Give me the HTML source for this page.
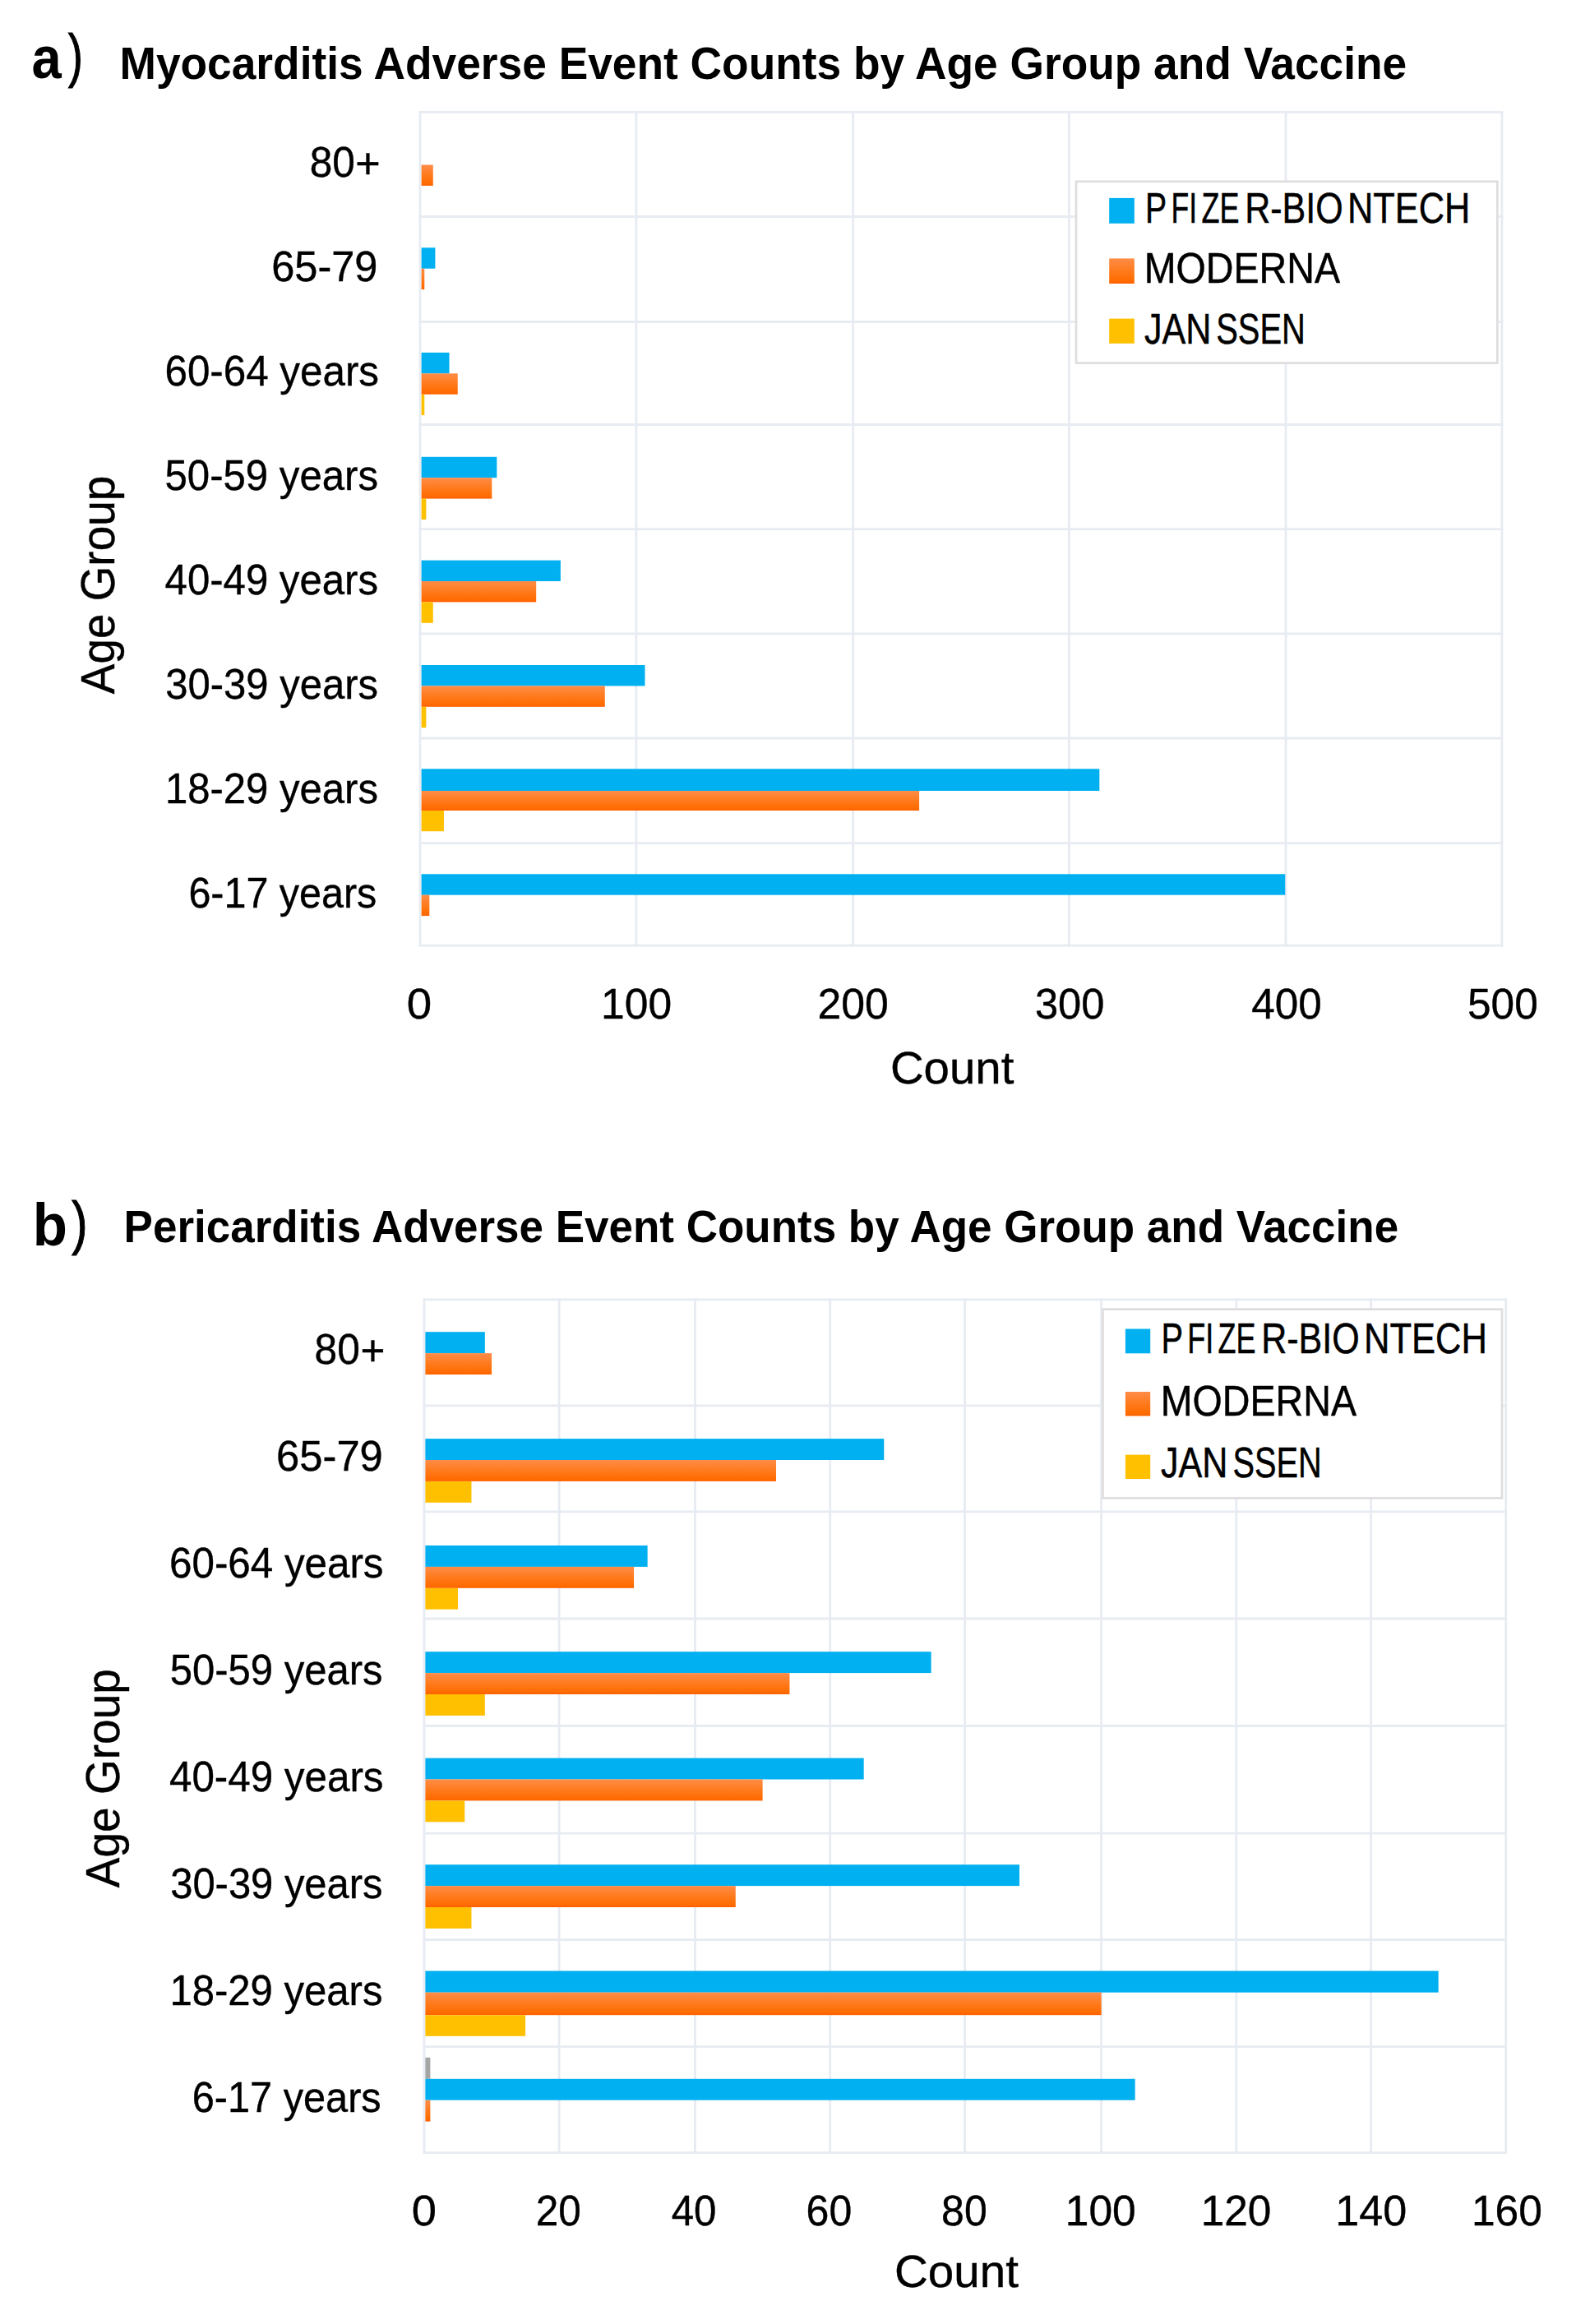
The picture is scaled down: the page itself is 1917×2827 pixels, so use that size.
<!DOCTYPE html>
<html lang="en"><head><meta charset="utf-8"><title>Adverse Event Counts by Age Group and Vaccine</title>
<style>html,body{margin:0;padding:0;background:#fff}body{width:1917px;height:2827px;overflow:hidden}svg text{font-family:"Liberation Sans",sans-serif}</style></head>
<body>
<svg width="1917" height="2827" viewBox="0 0 1917 2827" style="display:block">
<defs><linearGradient id="og" x1="0" y1="0" x2="0" y2="1"><stop offset="0" stop-color="#FF8C48"/><stop offset="0.5" stop-color="#FF7A1C"/><stop offset="0.88" stop-color="#FF6C02"/><stop offset="1" stop-color="#FF6000"/></linearGradient></defs>
<rect width="1917" height="2827" fill="#fff"/>
<line x1="511.00" y1="135.00" x2="511.00" y2="1151.60" stroke="#E7EBF2" stroke-width="2.8"/>
<line x1="773.90" y1="135.00" x2="773.90" y2="1151.60" stroke="#E7EBF2" stroke-width="2.8"/>
<line x1="1037.70" y1="135.00" x2="1037.70" y2="1151.60" stroke="#E7EBF2" stroke-width="2.8"/>
<line x1="1300.40" y1="135.00" x2="1300.40" y2="1151.60" stroke="#E7EBF2" stroke-width="2.8"/>
<line x1="1564.00" y1="135.00" x2="1564.00" y2="1151.60" stroke="#E7EBF2" stroke-width="2.8"/>
<line x1="1826.90" y1="135.00" x2="1826.90" y2="1151.60" stroke="#E7EBF2" stroke-width="2.8"/>
<line x1="509.60" y1="136.40" x2="1828.30" y2="136.40" stroke="#E7EBF2" stroke-width="2.8"/>
<line x1="509.60" y1="263.50" x2="1828.30" y2="263.50" stroke="#E7EBF2" stroke-width="2.8"/>
<line x1="509.60" y1="391.50" x2="1828.30" y2="391.50" stroke="#E7EBF2" stroke-width="2.8"/>
<line x1="509.60" y1="516.50" x2="1828.30" y2="516.50" stroke="#E7EBF2" stroke-width="2.8"/>
<line x1="509.60" y1="643.70" x2="1828.30" y2="643.70" stroke="#E7EBF2" stroke-width="2.8"/>
<line x1="509.60" y1="770.90" x2="1828.30" y2="770.90" stroke="#E7EBF2" stroke-width="2.8"/>
<line x1="509.60" y1="898.00" x2="1828.30" y2="898.00" stroke="#E7EBF2" stroke-width="2.8"/>
<line x1="509.60" y1="1025.70" x2="1828.30" y2="1025.70" stroke="#E7EBF2" stroke-width="2.8"/>
<line x1="509.60" y1="1150.20" x2="1828.30" y2="1150.20" stroke="#E7EBF2" stroke-width="2.8"/>
<rect x="512.60" y="200.50" width="14.17" height="25.40" fill="url(#og)"/>
<rect x="512.60" y="301.30" width="16.80" height="25.40" fill="#00B0F0"/>
<rect x="512.60" y="326.70" width="3.66" height="25.40" fill="url(#og)"/>
<rect x="512.60" y="428.90" width="33.89" height="25.40" fill="#00B0F0"/>
<rect x="512.60" y="454.30" width="44.14" height="25.40" fill="url(#og)"/>
<rect x="512.60" y="479.70" width="3.66" height="25.40" fill="#FFC000"/>
<rect x="512.60" y="555.80" width="91.73" height="25.40" fill="#00B0F0"/>
<rect x="512.60" y="581.20" width="85.68" height="25.40" fill="url(#og)"/>
<rect x="512.60" y="606.60" width="5.76" height="25.40" fill="#FFC000"/>
<rect x="512.60" y="681.60" width="169.28" height="25.40" fill="#00B0F0"/>
<rect x="512.60" y="707.00" width="139.58" height="25.40" fill="url(#og)"/>
<rect x="512.60" y="732.40" width="14.17" height="25.40" fill="#FFC000"/>
<rect x="512.60" y="809.00" width="271.85" height="25.40" fill="#00B0F0"/>
<rect x="512.60" y="834.40" width="223.18" height="25.40" fill="url(#og)"/>
<rect x="512.60" y="859.80" width="5.76" height="25.40" fill="#FFC000"/>
<rect x="512.60" y="935.30" width="824.70" height="26.70" fill="#00B0F0"/>
<rect x="512.60" y="962.00" width="605.49" height="24.00" fill="url(#og)"/>
<rect x="512.60" y="986.00" width="27.32" height="25.20" fill="#FFC000"/>
<rect x="512.60" y="1063.30" width="1050.61" height="25.40" fill="#00B0F0"/>
<rect x="512.60" y="1088.70" width="9.70" height="25.40" fill="url(#og)"/>
<line x1="516.00" y1="1579.50" x2="516.00" y2="2620.00" stroke="#E7EBF2" stroke-width="2.8"/>
<line x1="680.10" y1="1579.50" x2="680.10" y2="2620.00" stroke="#E7EBF2" stroke-width="2.8"/>
<line x1="845.50" y1="1579.50" x2="845.50" y2="2620.00" stroke="#E7EBF2" stroke-width="2.8"/>
<line x1="1009.70" y1="1579.50" x2="1009.70" y2="2620.00" stroke="#E7EBF2" stroke-width="2.8"/>
<line x1="1173.60" y1="1579.50" x2="1173.60" y2="2620.00" stroke="#E7EBF2" stroke-width="2.8"/>
<line x1="1339.60" y1="1579.50" x2="1339.60" y2="2620.00" stroke="#E7EBF2" stroke-width="2.8"/>
<line x1="1503.80" y1="1579.50" x2="1503.80" y2="2620.00" stroke="#E7EBF2" stroke-width="2.8"/>
<line x1="1667.60" y1="1579.50" x2="1667.60" y2="2620.00" stroke="#E7EBF2" stroke-width="2.8"/>
<line x1="1831.70" y1="1579.50" x2="1831.70" y2="2620.00" stroke="#E7EBF2" stroke-width="2.8"/>
<line x1="514.60" y1="1580.90" x2="1833.10" y2="1580.90" stroke="#E7EBF2" stroke-width="2.8"/>
<line x1="514.60" y1="1709.90" x2="1833.10" y2="1709.90" stroke="#E7EBF2" stroke-width="2.8"/>
<line x1="514.60" y1="1838.90" x2="1833.10" y2="1838.90" stroke="#E7EBF2" stroke-width="2.8"/>
<line x1="514.60" y1="1969.00" x2="1833.10" y2="1969.00" stroke="#E7EBF2" stroke-width="2.8"/>
<line x1="514.60" y1="2099.50" x2="1833.10" y2="2099.50" stroke="#E7EBF2" stroke-width="2.8"/>
<line x1="514.60" y1="2230.10" x2="1833.10" y2="2230.10" stroke="#E7EBF2" stroke-width="2.8"/>
<line x1="514.60" y1="2359.50" x2="1833.10" y2="2359.50" stroke="#E7EBF2" stroke-width="2.8"/>
<line x1="514.60" y1="2489.70" x2="1833.10" y2="2489.70" stroke="#E7EBF2" stroke-width="2.8"/>
<line x1="514.60" y1="2618.60" x2="1833.10" y2="2618.60" stroke="#E7EBF2" stroke-width="2.8"/>
<rect x="517.40" y="1620.20" width="72.45" height="25.90" fill="#00B0F0"/>
<rect x="517.40" y="1646.10" width="80.65" height="25.90" fill="url(#og)"/>
<rect x="517.40" y="1750.10" width="557.86" height="25.90" fill="#00B0F0"/>
<rect x="517.40" y="1776.00" width="426.62" height="25.90" fill="url(#og)"/>
<rect x="517.40" y="1801.90" width="56.04" height="25.90" fill="#FFC000"/>
<rect x="517.40" y="1880.00" width="270.21" height="25.90" fill="#00B0F0"/>
<rect x="517.40" y="1905.90" width="253.67" height="25.90" fill="url(#og)"/>
<rect x="517.40" y="1931.80" width="39.62" height="25.90" fill="#FFC000"/>
<rect x="517.40" y="2009.20" width="615.23" height="25.90" fill="#00B0F0"/>
<rect x="517.40" y="2035.10" width="443.04" height="25.90" fill="url(#og)"/>
<rect x="517.40" y="2061.00" width="72.45" height="25.90" fill="#FFC000"/>
<rect x="517.40" y="2138.60" width="533.27" height="25.90" fill="#00B0F0"/>
<rect x="517.40" y="2164.50" width="410.20" height="25.90" fill="url(#og)"/>
<rect x="517.40" y="2190.40" width="47.83" height="25.90" fill="#FFC000"/>
<rect x="517.40" y="2268.20" width="722.60" height="25.90" fill="#00B0F0"/>
<rect x="517.40" y="2294.10" width="377.36" height="25.90" fill="url(#og)"/>
<rect x="517.40" y="2320.00" width="56.04" height="25.90" fill="#FFC000"/>
<rect x="517.40" y="2397.50" width="1232.25" height="26.20" fill="#00B0F0"/>
<rect x="517.40" y="2423.70" width="822.20" height="27.50" fill="url(#og)"/>
<rect x="517.40" y="2451.20" width="121.68" height="25.60" fill="#FFC000"/>
<rect x="517.40" y="2502.90" width="5.98" height="25.90" fill="#A5A5A5"/>
<rect x="517.40" y="2528.80" width="863.25" height="25.90" fill="#00B0F0"/>
<rect x="517.40" y="2554.70" width="5.98" height="25.90" fill="url(#og)"/>
<rect x="1309.00" y="220.80" width="512.30" height="220.80" fill="#fff" stroke="#DFDDDD" stroke-width="2.7"/>
<rect x="1349.20" y="240.90" width="30.60" height="30.90" fill="#00B0F0"/>
<rect x="1349.20" y="314.40" width="30.60" height="30.60" fill="url(#og)"/>
<rect x="1349.20" y="387.60" width="30.60" height="30.20" fill="#FFC000"/>
<rect x="1341.40" y="1592.60" width="485.60" height="229.70" fill="#fff" stroke="#DFDDDD" stroke-width="2.7"/>
<rect x="1368.90" y="1616.50" width="30.30" height="29.80" fill="#00B0F0"/>
<rect x="1368.90" y="1693.00" width="30.30" height="29.40" fill="url(#og)"/>
<rect x="1368.90" y="1769.60" width="30.30" height="29.40" fill="#FFC000"/>
<text id="aleg0" y="270.80" font-size="51.2" font-weight="normal" fill="#000" stroke="#000" stroke-width="0.5"><tspan id="aleg0_0" x="1393.00" textLength="26.20" lengthAdjust="spacingAndGlyphs">P</tspan><tspan id="aleg0_1" x="1424.60" textLength="31.60" lengthAdjust="spacingAndGlyphs">FI</tspan><tspan id="aleg0_2" x="1461.40" textLength="46.00" lengthAdjust="spacingAndGlyphs">ZE</tspan><tspan id="aleg0_3" x="1514.20" textLength="119.40" lengthAdjust="spacingAndGlyphs">R-BIO</tspan><tspan id="aleg0_4" x="1639.00" textLength="149.20" lengthAdjust="spacingAndGlyphs">NTECH</tspan></text>
<text id="aleg1" y="344.40" font-size="51.2" font-weight="normal" fill="#000" stroke="#000" stroke-width="0.5"><tspan id="aleg1_0" x="1391.80" textLength="238.20" lengthAdjust="spacingAndGlyphs">MODERNA</tspan></text>
<text id="aleg2" y="417.50" font-size="51.2" font-weight="normal" fill="#000" stroke="#000" stroke-width="0.5"><tspan id="aleg2_0" x="1392.00" textLength="81.40" lengthAdjust="spacingAndGlyphs">JAN</tspan><tspan id="aleg2_1" x="1479.20" textLength="108.60" lengthAdjust="spacingAndGlyphs">SSEN</tspan></text>
<text id="bleg0" y="1646.00" font-size="51.2" font-weight="normal" fill="#000" stroke="#000" stroke-width="0.5"><tspan id="bleg0_0" x="1412.60" textLength="26.60" lengthAdjust="spacingAndGlyphs">P</tspan><tspan id="bleg0_1" x="1444.20" textLength="32.00" lengthAdjust="spacingAndGlyphs">FI</tspan><tspan id="bleg0_2" x="1481.40" textLength="46.00" lengthAdjust="spacingAndGlyphs">ZE</tspan><tspan id="bleg0_3" x="1534.20" textLength="119.40" lengthAdjust="spacingAndGlyphs">R-BIO</tspan><tspan id="bleg0_4" x="1659.00" textLength="150.00" lengthAdjust="spacingAndGlyphs">NTECH</tspan></text>
<text id="bleg1" y="1721.70" font-size="51.2" font-weight="normal" fill="#000" stroke="#000" stroke-width="0.5"><tspan id="bleg1_0" x="1411.80" textLength="238.20" lengthAdjust="spacingAndGlyphs">MODERNA</tspan></text>
<text id="bleg2" y="1797.40" font-size="51.2" font-weight="normal" fill="#000" stroke="#000" stroke-width="0.5"><tspan id="bleg2_0" x="1412.00" textLength="81.40" lengthAdjust="spacingAndGlyphs">JAN</tspan><tspan id="bleg2_1" x="1499.60" textLength="108.20" lengthAdjust="spacingAndGlyphs">SSEN</tspan></text>
<text id="a_lab" y="94.90" font-size="73" font-weight="normal" fill="#000"><tspan id="a_lab_0" x="38.40" font-weight="bold" textLength="36.20" lengthAdjust="spacingAndGlyphs">a</tspan><tspan id="a_lab_1" x="83.00" dy="-2.9" font-weight="normal" stroke="#000" stroke-width="1.2" textLength="17.80" lengthAdjust="spacingAndGlyphs">)</tspan></text>
<text id="a_title" x="145.50" y="96.00" font-size="55.2" font-weight="bold" fill="#000" textLength="1565.70" lengthAdjust="spacingAndGlyphs">Myocarditis Adverse Event Counts by Age Group and Vaccine</text>
<text id="b_lab" y="1515.00" font-size="73" font-weight="normal" fill="#000"><tspan id="b_lab_0" x="39.80" font-weight="bold" textLength="42.20" lengthAdjust="spacingAndGlyphs">b</tspan><tspan id="b_lab_1" x="87.20" dy="-3.0" font-weight="normal" stroke="#000" stroke-width="1.2" textLength="19.20" lengthAdjust="spacingAndGlyphs">)</tspan></text>
<text id="b_title" x="150.60" y="1510.70" font-size="55.2" font-weight="bold" fill="#000" textLength="1550.50" lengthAdjust="spacingAndGlyphs">Pericarditis Adverse Event Counts by Age Group and Vaccine</text>
<text id="a_y0" y="215.30" font-size="51.4" font-weight="normal" fill="#000" stroke="#000" stroke-width="0.4"><tspan id="a_y0_0" x="376.70" textLength="55.10" lengthAdjust="spacingAndGlyphs">80</tspan><tspan id="a_y0_1" x="432.30" dy="1.9" textLength="30.40" lengthAdjust="spacingAndGlyphs">+</tspan></text>
<text id="a_y1" x="330.20" y="342.20" font-size="51.4" font-weight="normal" fill="#000" stroke="#000" stroke-width="0.4" textLength="129.30" lengthAdjust="spacingAndGlyphs">65-79</text>
<text id="a_y2" x="200.50" y="469.10" font-size="51.4" font-weight="normal" fill="#000" stroke="#000" stroke-width="0.4" textLength="260.50" lengthAdjust="spacingAndGlyphs">60-64 years</text>
<text id="a_y3" x="200.50" y="596.00" font-size="51.4" font-weight="normal" fill="#000" stroke="#000" stroke-width="0.4" textLength="259.50" lengthAdjust="spacingAndGlyphs">50-59 years</text>
<text id="a_y4" x="200.60" y="722.90" font-size="51.4" font-weight="normal" fill="#000" stroke="#000" stroke-width="0.4" textLength="259.40" lengthAdjust="spacingAndGlyphs">40-49 years</text>
<text id="a_y5" x="201.20" y="849.80" font-size="51.4" font-weight="normal" fill="#000" stroke="#000" stroke-width="0.4" textLength="258.80" lengthAdjust="spacingAndGlyphs">30-39 years</text>
<text id="a_y6" x="200.90" y="976.70" font-size="51.4" font-weight="normal" fill="#000" stroke="#000" stroke-width="0.4" textLength="259.10" lengthAdjust="spacingAndGlyphs">18-29 years</text>
<text id="a_y7" x="229.40" y="1103.60" font-size="51.4" font-weight="normal" fill="#000" stroke="#000" stroke-width="0.4" textLength="228.90" lengthAdjust="spacingAndGlyphs">6-17 years</text>
<text id="b_y0" y="1659.00" font-size="51.4" font-weight="normal" fill="#000" stroke="#000" stroke-width="0.4"><tspan id="b_y0_0" x="382.60" textLength="55.20" lengthAdjust="spacingAndGlyphs">80</tspan><tspan id="b_y0_1" x="438.40" dy="1.9" textLength="29.90" lengthAdjust="spacingAndGlyphs">+</tspan></text>
<text id="b_y1" x="336.10" y="1788.95" font-size="51.4" font-weight="normal" fill="#000" stroke="#000" stroke-width="0.4" textLength="129.70" lengthAdjust="spacingAndGlyphs">65-79</text>
<text id="b_y2" x="206.10" y="1918.90" font-size="51.4" font-weight="normal" fill="#000" stroke="#000" stroke-width="0.4" textLength="260.40" lengthAdjust="spacingAndGlyphs">60-64 years</text>
<text id="b_y3" x="206.80" y="2048.85" font-size="51.4" font-weight="normal" fill="#000" stroke="#000" stroke-width="0.4" textLength="258.70" lengthAdjust="spacingAndGlyphs">50-59 years</text>
<text id="b_y4" x="206.00" y="2178.80" font-size="51.4" font-weight="normal" fill="#000" stroke="#000" stroke-width="0.4" textLength="260.50" lengthAdjust="spacingAndGlyphs">40-49 years</text>
<text id="b_y5" x="207.20" y="2308.75" font-size="51.4" font-weight="normal" fill="#000" stroke="#000" stroke-width="0.4" textLength="258.30" lengthAdjust="spacingAndGlyphs">30-39 years</text>
<text id="b_y6" x="206.40" y="2438.70" font-size="51.4" font-weight="normal" fill="#000" stroke="#000" stroke-width="0.4" textLength="259.10" lengthAdjust="spacingAndGlyphs">18-29 years</text>
<text id="b_y7" x="233.70" y="2568.65" font-size="51.4" font-weight="normal" fill="#000" stroke="#000" stroke-width="0.4" textLength="230.00" lengthAdjust="spacingAndGlyphs">6-17 years</text>
<text id="a_x0" x="494.80" y="1239.00" font-size="51.4" font-weight="normal" fill="#000" stroke="#000" stroke-width="0.4" textLength="30.40" lengthAdjust="spacingAndGlyphs">0</text>
<text id="a_x1" x="731.10" y="1239.00" font-size="51.4" font-weight="normal" fill="#000" stroke="#000" stroke-width="0.4" textLength="86.00" lengthAdjust="spacingAndGlyphs">100</text>
<text id="a_x2" x="994.45" y="1239.00" font-size="51.4" font-weight="normal" fill="#000" stroke="#000" stroke-width="0.4" textLength="86.30" lengthAdjust="spacingAndGlyphs">200</text>
<text id="a_x3" x="1258.95" y="1239.00" font-size="51.4" font-weight="normal" fill="#000" stroke="#000" stroke-width="0.4" textLength="84.50" lengthAdjust="spacingAndGlyphs">300</text>
<text id="a_x4" x="1522.15" y="1239.00" font-size="51.4" font-weight="normal" fill="#000" stroke="#000" stroke-width="0.4" textLength="85.50" lengthAdjust="spacingAndGlyphs">400</text>
<text id="a_x5" x="1785.05" y="1239.00" font-size="51.4" font-weight="normal" fill="#000" stroke="#000" stroke-width="0.4" textLength="85.70" lengthAdjust="spacingAndGlyphs">500</text>
<text id="b_x0" x="500.80" y="2707.00" font-size="51.4" font-weight="normal" fill="#000" stroke="#000" stroke-width="0.4" textLength="30.20" lengthAdjust="spacingAndGlyphs">0</text>
<text id="b_x1" x="651.70" y="2707.00" font-size="51.4" font-weight="normal" fill="#000" stroke="#000" stroke-width="0.4" textLength="55.00" lengthAdjust="spacingAndGlyphs">20</text>
<text id="b_x2" x="816.70" y="2707.00" font-size="51.4" font-weight="normal" fill="#000" stroke="#000" stroke-width="0.4" textLength="54.80" lengthAdjust="spacingAndGlyphs">40</text>
<text id="b_x3" x="980.60" y="2707.00" font-size="51.4" font-weight="normal" fill="#000" stroke="#000" stroke-width="0.4" textLength="55.60" lengthAdjust="spacingAndGlyphs">60</text>
<text id="b_x4" x="1145.10" y="2707.00" font-size="51.4" font-weight="normal" fill="#000" stroke="#000" stroke-width="0.4" textLength="55.60" lengthAdjust="spacingAndGlyphs">80</text>
<text id="b_x5" x="1295.85" y="2707.00" font-size="51.4" font-weight="normal" fill="#000" stroke="#000" stroke-width="0.4" textLength="85.90" lengthAdjust="spacingAndGlyphs">100</text>
<text id="b_x6" x="1460.65" y="2707.00" font-size="51.4" font-weight="normal" fill="#000" stroke="#000" stroke-width="0.4" textLength="85.70" lengthAdjust="spacingAndGlyphs">120</text>
<text id="b_x7" x="1624.25" y="2707.00" font-size="51.4" font-weight="normal" fill="#000" stroke="#000" stroke-width="0.4" textLength="86.90" lengthAdjust="spacingAndGlyphs">140</text>
<text id="b_x8" x="1789.95" y="2707.00" font-size="51.4" font-weight="normal" fill="#000" stroke="#000" stroke-width="0.4" textLength="85.90" lengthAdjust="spacingAndGlyphs">160</text>
<text id="a_count" x="1082.90" y="1318.00" font-size="56" font-weight="normal" fill="#000" stroke="#000" stroke-width="0.4" textLength="150.50" lengthAdjust="spacingAndGlyphs">Count</text>
<text id="b_count" x="1088.00" y="2781.80" font-size="56" font-weight="normal" fill="#000" stroke="#000" stroke-width="0.4" textLength="150.90" lengthAdjust="spacingAndGlyphs">Count</text>
<text id="a_age" transform="translate(139.20,844.20) rotate(-90)" font-size="57" font-weight="normal" fill="#000" stroke="#000" stroke-width="0.4" textLength="265.40" lengthAdjust="spacingAndGlyphs">Age Group</text>
<text id="b_age" transform="translate(145.30,2296.20) rotate(-90)" font-size="57" font-weight="normal" fill="#000" stroke="#000" stroke-width="0.4" textLength="266.10" lengthAdjust="spacingAndGlyphs">Age Group</text>
</svg>
</body></html>
